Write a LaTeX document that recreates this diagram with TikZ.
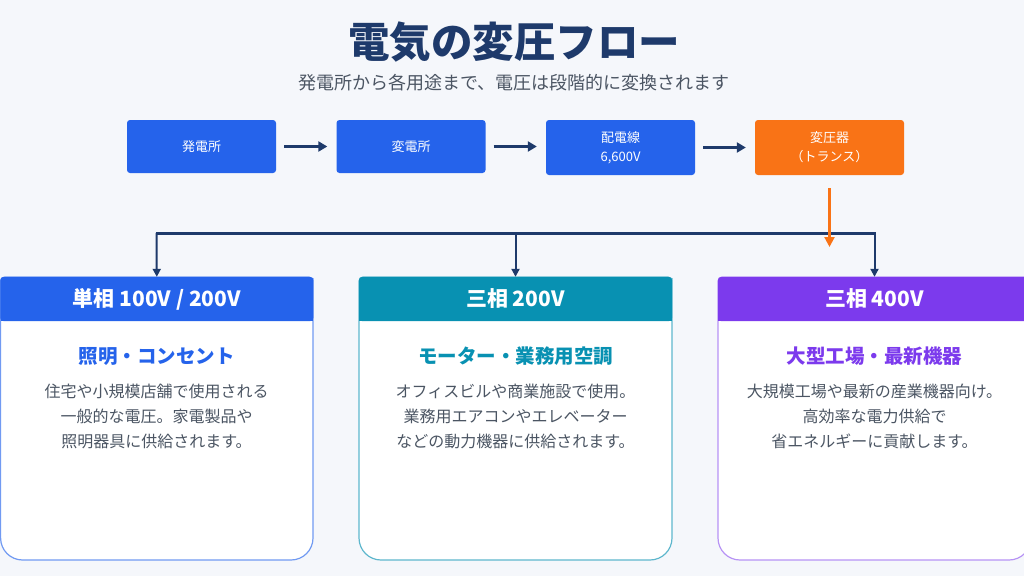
\documentclass[tikz,border=0pt]{standalone}
\usepackage{fontspec}
\setmainfont{Noto Sans CJK JP}
\usetikzlibrary{arrows.meta}
\definecolor{bg}{HTML}{F5F7FB}
\definecolor{navy}{HTML}{1E3A6B}
\definecolor{cblue}{HTML}{2563EB}
\definecolor{cteal}{HTML}{0891B2}
\definecolor{cpurple}{HTML}{7C3AED}
\definecolor{corange}{HTML}{F97316}
\definecolor{bodygray}{HTML}{4B5563}
\definecolor{subgray}{HTML}{4B5563}
\tikzset{
  x=1pt, y=-1pt,
  flowbox/.style={fill=#1, rounded corners=3pt, minimum width=149pt, minimum height=53pt, inner sep=0pt, text=white, font=\fontsize{13}{19}\selectfont, align=center},
  headbox/.style={fill=#1, rounded corners=3pt, minimum width=313pt, minimum height=44pt, inner sep=0pt, text=white, font=\fontsize{21}{25}\selectfont\bfseries},
  cardsub/.style={text=#1, font=\fontsize{19.5}{23}\selectfont\bfseries},
  cardbody/.style={text=bodygray, font=\fontsize{16}{25}\selectfont, align=center},
  flowarrow/.style={draw=navy, line width=3pt, -{Triangle[length=9pt,width=10pt]}},
  droparrow/.style={draw=navy, line width=2pt, -{Triangle[length=8pt,width=8pt]}},
}
\newcommand{\cardbg}[3]{% x0, x1, border colour
  \path[fill=white, draw=#3, line width=1.2pt] (#1,300) [rounded corners=22pt] -- (#1,560) -- (#2,560) -- (#2,300) [rounded corners=4pt] -- (#2,277) -- (#1,277) -- cycle;
}
\begin{document}
\begin{tikzpicture}
\useasboundingbox (0,0) rectangle (1024,576);
\clip (0,0) rectangle (1024,576);
\fill[bg] (0,0) rectangle (1024,576);

% title
\node[text=navy, font=\fontsize{41.5}{47}\selectfont\bfseries] (title) at (514,42) {電気の変圧フロー};
\node[text=subgray, font=\fontsize{18}{22}\selectfont] (subtitle) at (514,83) {発電所から各用途まで、電圧は段階的に変換されます};

% flow boxes
\node[flowbox=cblue] (b1) at (201.5,146.5) {発電所};
\node[flowbox=cblue] (b2) at (411,146.5) {変電所};
\node[flowbox=cblue, minimum height=55pt] (b3) at (620.5,147.5) {配電線\\6,600V};
\node[flowbox=corange, minimum height=55pt] (b4) at (829.5,147.5) {変圧器\\（トランス）};

\draw[flowarrow] ([xshift=8pt]b1.east) -- ([xshift=-9pt]b2.west);
\draw[flowarrow] ([xshift=8pt]b2.east) -- ([xshift=-9pt]b2.east -| b3.west);
\draw[flowarrow] ([xshift=8pt]b3.east) -- ([xshift=-9pt]b4.west);

% cards
\cardbg{0.6}{313}{cblue!65!white}
\cardbg{359}{672}{cteal!65!white}
\cardbg{718}{1031}{cpurple!55!white}

\node[headbox=cblue] (h1) at (156.8,299) {単相 100V / 200V};
\node[headbox=cteal] (h2) at (515.5,299) {三相 200V};
\node[headbox=cpurple] (h3) at (874.5,299) {三相 400V};
\fill[cblue] (0.6,310) rectangle (313.3,321);
\fill[cteal] (359,310) rectangle (672,321);
\fill[cpurple] (718,310) rectangle (1031,321);

\node[cardsub=cblue] (s1) at (156.5,356) {照明・コンセント};
\node[cardsub=cteal] (s2) at (515.5,356) {モーター・業務用空調};
\node[cardsub=cpurple] (s3) at (874.5,356) {大型工場・最新機器};

\node[cardbody, anchor=north] (t1) at (156.5,380) {住宅や小規模店舗で使用される\\一般的な電圧。家電製品や\\照明器具に供給されます。};
\node[cardbody, anchor=north] (t2) at (515.5,380) {オフィスビルや商業施設で使用。\\業務用エアコンやエレベーター\\などの動力機器に供給されます。};
\node[cardbody, anchor=north] (t3) at (874.5,380) {大規模工場や最新の産業機器向け。\\高効率な電力供給で\\省エネルギーに貢献します。};

% distribution lines
\coordinate (jl) at (156.5,233);
\coordinate (jm) at (515.5,233);
\coordinate (jr) at (874.5,233);
\draw[navy, line width=3pt] ([xshift=-1pt]jl) -- ([xshift=1pt]jr);
\draw[droparrow] (jl) -- (h1.north);
\draw[droparrow] (jm) -- (h2.north);
\draw[droparrow] (jr) -- (h3.north);

% orange arrow from transformer
\coordinate (oe) at (829.5,247);
\draw[draw=corange, line width=2.2pt, -{Triangle[length=10pt,width=10pt]}, shorten <=13pt] (b4.south) -- (oe);
\end{tikzpicture}
\end{document}
